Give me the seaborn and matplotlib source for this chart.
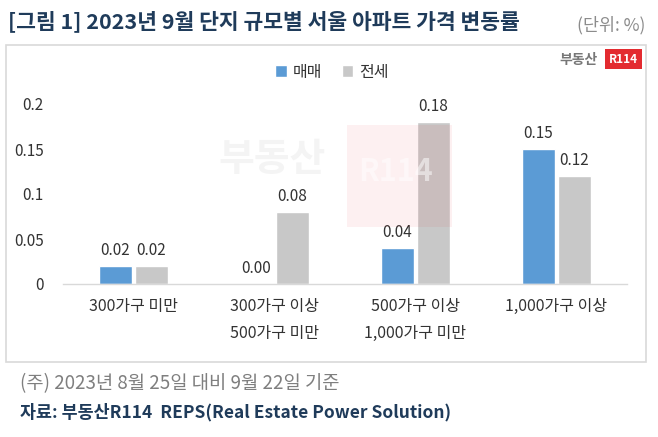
import matplotlib
matplotlib.use("Agg")
import matplotlib.pyplot as plt
import seaborn as sns
import pandas as pd
from matplotlib.patches import Rectangle

categories = ["300가구 미만", "300가구 이상\n500가구 미만", "500가구 이상\n1,000가구 미만", "1,000가구 이상"]
series = ["매매", "전세"]
sale = [0.02, 0.00, 0.04, 0.15]
jeonse = [0.02, 0.08, 0.18, 0.12]
yticks = [0, 0.05, 0.1, 0.15, 0.2]
ytick_labels = ["0", "0.05", "0.1", "0.15", "0.2"]

df = pd.DataFrame({
    "cat": categories * 2,
    "series": [series[0]] * 4 + [series[1]] * 4,
    "value": sale + jeonse,
})

sns.set_theme(style="white")
plt.rcParams["font.family"] = ["Noto Sans CJK KR", "DejaVu Sans"]

W, H = 658, 437
fig = plt.figure(figsize=(W / 100, H / 100), dpi=100)

def fx(x): return x / W
def fy(y): return 1 - y / H

# outer border box
fig.patches.append(Rectangle((fx(6), fy(362)), fx(640), (362 - 45) / H, transform=fig.transFigure,
                             fill=False, edgecolor="#d9d9d9", linewidth=1.2))

ax = fig.add_axes([fx(63), fy(284), fx(627 - 63), (284 - 104) / H])

# watermark text (behind)
fig.text(fx(272), fy(160), "부동산", fontsize=28, fontweight="bold", color="#f4f4f4",
         ha="center", va="center", zorder=0)

colors = ["#5b9bd5", "#c8c8c8"]
sns.barplot(data=df, x="cat", y="value", hue="series", palette=colors, ax=ax,
            width=0.51, gap=0.1, saturation=1, legend=True)

for container in ax.containers:
    ax.bar_label(container, fmt="%.2f", padding=5, fontsize=11, color="#333333", clip_on=False)

ax.set_ylim(0, 0.2)
ax.set_xlim(-0.5, 3.5)
ax.set_yticks(yticks)
ax.set_yticklabels(ytick_labels, fontsize=11, color="#333333")
ax.tick_params(axis="y", pad=14, length=0)
ax.tick_params(axis="x", pad=10, length=0, labelsize=11.5, labelcolor="#333333")
ax.set_xlabel("")
ax.set_ylabel("")
for s in ["top", "right", "left"]:
    ax.spines[s].set_visible(False)
ax.spines["bottom"].set_color("#d9d9d9")
ax.spines["bottom"].set_linewidth(1)
ax.set_facecolor("none")
for lbl in ax.get_xticklabels():
    lbl.set_linespacing(1.75)
    lbl.set_va("top")

leg = ax.legend(loc="center", bbox_to_anchor=(fx(332), fy(72)), bbox_transform=fig.transFigure,
                ncol=2, frameon=False, fontsize=11.5, handlelength=0.7, handleheight=0.7,
                handletextpad=0.4, columnspacing=1.2)
for t in leg.get_texts():
    t.set_color("#333333")

# watermark red box (semi-transparent, in front)
fig.patches.append(Rectangle((fx(347), fy(227)), fx(105), 102 / H, transform=fig.transFigure,
                             facecolor="#e32b30", alpha=0.065, edgecolor="none", zorder=5))
fig.text(fx(396), fy(172), "R114", fontsize=22, fontweight="bold", color="white", alpha=0.5,
         ha="center", va="center", zorder=6)

# title and unit
fig.text(fx(8), fy(21), "[그림 1] 2023년 9월 단지 규모별 서울 아파트 가격 변동률", fontsize=15.5,
         fontweight="bold", color="#1f3b5a", ha="left", va="center")
fig.text(fx(645), fy(25), "(단위: %)", fontsize=12.5, color="#8c8c8c", ha="right", va="center")

# logo
fig.text(fx(598), fy(60), "부동산", fontsize=10, fontweight="bold", color="#777777", ha="right", va="center")
fig.patches.append(Rectangle((fx(605), fy(69)), fx(37), 20 / H, transform=fig.transFigure,
                             facecolor="#e32b30", edgecolor="none"))
fig.text(fx(623.5), fy(59.5), "R114", fontsize=8.5, fontweight="bold", color="white", ha="center", va="center")

# footnotes
fig.text(fx(20), fy(384), "(주) 2023년 8월 25일 대비 9월 22일 기준", fontsize=13.5, color="#7f7f7f",
         ha="left", va="center")
fig.text(fx(20), fy(412), "자료: 부동산R114  REPS(Real Estate Power Solution)", fontsize=12.5,
         fontweight="bold", color="#1f3b5a", ha="left", va="center")

fig.savefig("out.png", dpi=100)
